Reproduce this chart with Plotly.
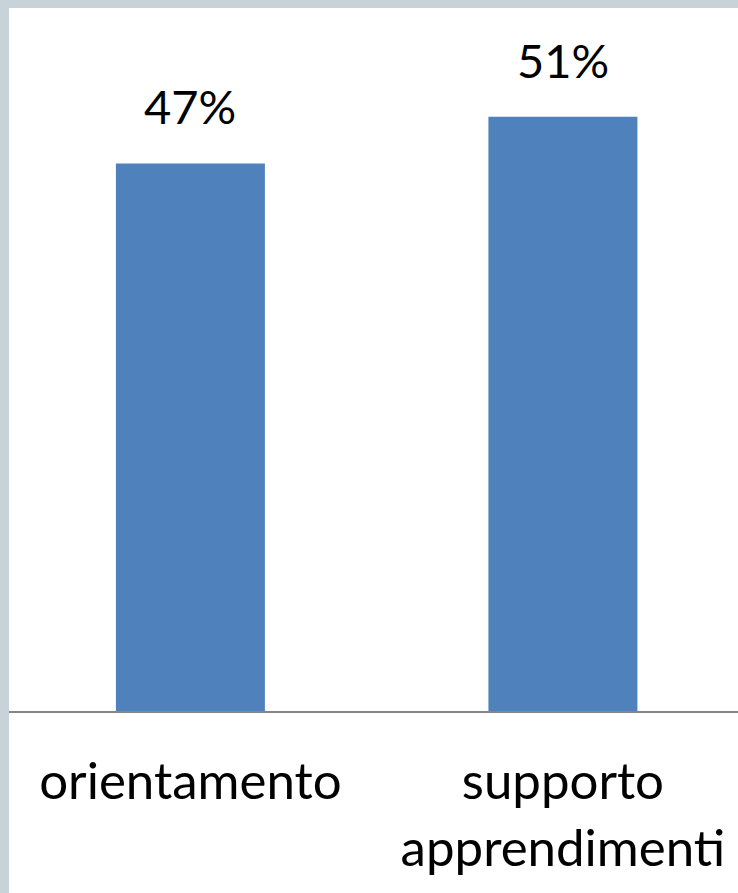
import plotly.graph_objects as go

# Survey results by area
categories = ["orientamento", "supporto<br>apprendimenti"]
values = [47, 51]
value_labels = ["47%", "51%"]

BAR_COLOR = "#4F81BD"
FRAME_COLOR = "#C8D2D9"
FONT = "Lato"

W, H = 738, 893
ML, MT, MB = 9, 8, 182
PW, PH = W - ML, H - MT - MB

fig = go.Figure()
fig.add_trace(go.Bar(
    x=categories,
    y=values,
    marker=dict(color=BAR_COLOR, line=dict(width=0)),
    hoverinfo="skip",
))

# value labels above each bar
for cat, v, lab in zip(categories, values, value_labels):
    fig.add_annotation(
        x=cat, y=v, text=lab, showarrow=False,
        xanchor="center", yanchor="bottom", yshift=27,
        font=dict(family=FONT, size=47, color="#000000"),
    )

# light frame along the left and top edges
fig.add_shape(type="rect", xref="paper", yref="paper",
              x0=-ML / PW, x1=0, y0=-MB / PH, y1=1 + MT / PH,
              fillcolor=FRAME_COLOR, line=dict(width=0), layer="above")
fig.add_shape(type="rect", xref="paper", yref="paper",
              x0=-ML / PW, x1=1, y0=1, y1=1 + MT / PH,
              fillcolor=FRAME_COLOR, line=dict(width=0), layer="above")

fig.update_layout(
    width=W, height=H,
    margin=dict(l=ML, r=0, t=MT, b=MB, pad=0),
    paper_bgcolor="white", plot_bgcolor="white",
    bargap=0.6,
    showlegend=False,
    xaxis=dict(
        type="category",
        range=[-0.487, 1.47],
        showgrid=False, zeroline=False,
        showline=True, linecolor="#868686", linewidth=2,
        ticks="", ticklabelstandoff=25,
        tickfont=dict(family=FONT, size=51, color="#000000"),
    ),
    yaxis=dict(
        range=[0, 60.34],
        showgrid=False, zeroline=False, showline=False,
        showticklabels=False, ticks="",
    ),
)

fig.write_html("out.html")
